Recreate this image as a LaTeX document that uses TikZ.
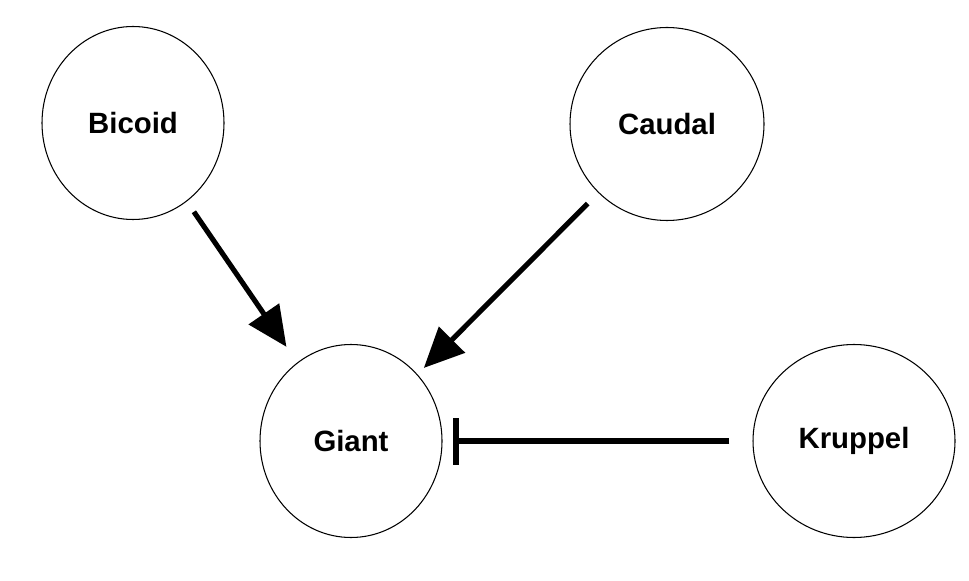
\documentclass[tikz,border=0pt]{standalone}
\usepackage{fontspec}
\setmainfont{Liberation Sans}
\usetikzlibrary{arrows.meta,shapes.geometric}
\begin{document}
\begin{tikzpicture}[scale=1,
  main node/.style={ellipse,draw,line width=0.6pt,font=\fontsize{16.7}{20}\selectfont\bfseries,
    minimum width=3.64cm,minimum height=3.86cm,inner sep=0pt},
  act/.style={line width=2.9pt,-{Triangle[length=0.8cm,width=0.72cm]}},
  inh/.style={line width=2.9pt,-{Bar[width=0.94cm,line width=3.4pt]}}]

  \useasboundingbox (0,0) rectangle (19.38,11.6);

  \node[main node] (bicoid) at (2.66,9.14) {Bicoid};
  \node[main node,minimum width=3.88cm] (caudal) at (13.34,9.12) {Caudal};
  \node[main node] (giant) at (7.02,2.78) {Giant};
  \node[main node,minimum width=4.04cm] (kruppel) at (17.08,2.78) {Kruppel};

  \path
   (bicoid) edge[act,shorten <=0.25cm,shorten >=0.38cm] (giant)
   (caudal) edge[act,shorten <=0.3cm,shorten >=0.18cm] (giant)
   (kruppel) edge[inh,shorten <=0.46cm,shorten >=0.2cm] (giant);
\end{tikzpicture}
\end{document}
